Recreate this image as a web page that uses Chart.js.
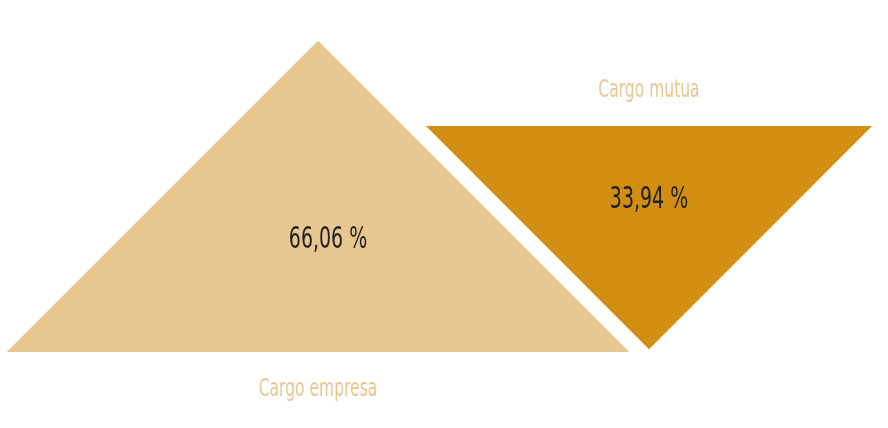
<!DOCTYPE html>
<html>
<head>
<meta charset="utf-8">
<script src="https://cdn.jsdelivr.net/npm/chart.js@4/dist/chart.umd.min.js"></script>
<style>
html, body { margin: 0; padding: 0; background: #fff; }
#wrap { width: 888px; height: 428px; }
</style>
</head>
<body>
<div id="wrap"><canvas id="triChart"></canvas></div>
<script>
// data
var categories = ["Cargo empresa", "Cargo mutua"];
var values = [66.06, 33.94];
var colors = ["#E8C68F", "#D18E10"];

// triangle side scales with sqrt(value) so area follows the share
var K = 38.3;
function tri(v, cx, baseY, dir) {
  var h = K * Math.sqrt(v);
  return [
    { x: cx - h, y: baseY },
    { x: cx, y: baseY - dir * h },
    { x: cx + h, y: baseY },
    { x: cx - h, y: baseY }
  ];
}
var anchors = [
  { cx: 318, y: 352, dir: 1, vpos: 0.36, vdx: 10, ldy: 38 },   // pointing up
  { cx: 649, y: 126, dir: -1, vpos: 0.33, vdx: 0, ldy: -35 }   // pointing down
];

function fmt(v) {
  return v.toFixed(2).replace(".", ",") + " %";
}

// narrow text like the condensed face of the original
function narrowText(ctx, txt, x, y, sx) {
  ctx.save();
  ctx.translate(x, y);
  ctx.scale(sx, 1);
  ctx.fillText(txt, 0, 0);
  ctx.restore();
}

var labelPlugin = {
  id: "triLabels",
  afterDatasetsDraw: function (chart) {
    var ctx = chart.ctx;
    var xs = chart.scales.x, ys = chart.scales.y;
    ctx.save();
    ctx.textAlign = "center";
    ctx.textBaseline = "middle";
    for (var i = 0; i < values.length; i++) {
      var a = anchors[i];
      var h = K * Math.sqrt(values[i]);
      var vy = a.y - a.dir * h * a.vpos;
      ctx.fillStyle = "#1E1E1E";
      ctx.font = "31px 'DejaVu Sans Condensed', sans-serif";
      narrowText(ctx, fmt(values[i]), xs.getPixelForValue(a.cx + a.vdx), ys.getPixelForValue(vy), 0.68);
      ctx.fillStyle = "#E8C68F";
      ctx.font = "24px 'DejaVu Sans Condensed', sans-serif";
      narrowText(ctx, categories[i], xs.getPixelForValue(a.cx), ys.getPixelForValue(a.y + a.ldy), 0.72);
    }
    ctx.restore();
  }
};

var ds = [];
for (var i = 0; i < values.length; i++) {
  ds.push({
    label: categories[i],
    data: tri(values[i], anchors[i].cx, anchors[i].y, anchors[i].dir),
    showLine: true,
    fill: "shape",
    backgroundColor: colors[i],
    borderColor: colors[i],
    borderWidth: 0,
    pointRadius: 0,
    tension: 0
  });
}

var ctx = document.getElementById("triChart");
var chart = new Chart(ctx, {
  type: "scatter",
  data: { datasets: ds },
  options: {
    responsive: true,
    maintainAspectRatio: false,
    animation: false,
    layout: { padding: 0 },
    plugins: { legend: { display: false }, tooltip: { enabled: false } },
    scales: {
      x: { type: "linear", min: 0, max: 888, display: false },
      y: { type: "linear", min: 0, max: 428, reverse: true, display: false }
    }
  },
  plugins: [labelPlugin]
});
</script>
</body>
</html>
